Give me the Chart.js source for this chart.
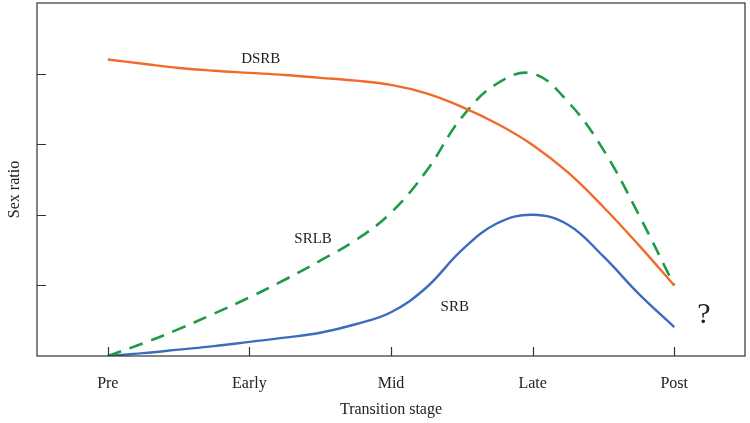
<!DOCTYPE html>
<html>
<head>
<meta charset="utf-8">
<script src="https://cdn.jsdelivr.net/npm/chart.js@4"></script>
<style>
  html, body { margin: 0; padding: 0; background: #fff; }
  #wrap { width: 750px; height: 423px; }
</style>
</head>
<body>
<div id="wrap"><canvas id="c"></canvas></div>
<script>
// Transition stages (x = stage index, quarter steps read between stages)
const stages = ['Pre', 'Early', 'Mid', 'Late', 'Post'];
const xs = [0, 0.25, 0.5, 0.75, 1, 1.25, 1.5, 1.75, 2, 2.25, 2.5, 2.75, 3, 3.25, 3.5, 3.75, 4];

// values (arbitrary units, ticks at 1..4)
const dsrb = [4.2, 4.14, 4.08, 4.04, 4.01, 3.98, 3.94, 3.9, 3.84, 3.72, 3.53, 3.29, 2.99, 2.6, 2.11, 1.57, 1.0];
const srlb = [0, 0.18, 0.38, 0.6, 0.83, 1.08, 1.35, 1.64, 2.03, 2.62, 3.38, 3.86, 4.0, 3.6, 2.92, 2.0, 1.0];
const srb  = [0, 0.04, 0.09, 0.14, 0.2, 0.26, 0.33, 0.45, 0.62, 0.97, 1.5, 1.88, 2.0, 1.86, 1.41, 0.88, 0.41];

const yTicks = [1, 2, 3, 4];

// in-plot labels
const labels = [
  { text: 'DSRB', x: 1.08, y: 4.2 },
  { text: 'SRLB', x: 1.45, y: 1.65 },
  { text: 'SRB',  x: 2.45, y: 0.7 },
  { text: '?',    x: 4.21, y: 0.58, size: 30 }
];

const FONT = '"Liberation Serif", "DejaVu Serif", serif';

function pts(ys) {
  return xs.map((x, i) => ({ x: x, y: ys[i] }));
}

const frame = {
  id: 'frame',
  afterDraw(chart) {
    const { ctx, chartArea: a, scales } = chart;
    ctx.save();
    ctx.strokeStyle = '#333';
    ctx.lineWidth = 1.2;
    ctx.strokeRect(a.left, a.top, a.right - a.left, a.bottom - a.top);
    // inward ticks
    ctx.beginPath();
    yTicks.forEach(v => {
      const y = Math.round(scales.y.getPixelForValue(v)) + 0.5;
      ctx.moveTo(a.left, y);
      ctx.lineTo(a.left + 9, y);
    });
    stages.forEach((s, i) => {
      const x = Math.round(scales.x.getPixelForValue(i)) + 0.5;
      ctx.moveTo(x, a.bottom);
      ctx.lineTo(x, a.bottom - 9);
    });
    ctx.stroke();
    // text labels
    ctx.fillStyle = '#222';
    ctx.textAlign = 'center';
    ctx.textBaseline = 'middle';
    labels.forEach(l => {
      ctx.font = (l.size || 15) + 'px ' + FONT;
      ctx.fillText(l.text, scales.x.getPixelForValue(l.x), scales.y.getPixelForValue(l.y));
    });
    // y axis title (sits a bit below the plot centre in the original)
    ctx.translate(15, (a.top + a.bottom) / 2 + 10);
    ctx.rotate(-Math.PI / 2);
    ctx.font = '16px ' + FONT;
    ctx.fillText('Sex ratio', 0, 0);
    ctx.restore();
  }
};

new Chart(document.getElementById('c'), {
  type: 'line',
  data: {
    datasets: [
      { label: 'DSRB', data: pts(dsrb), borderColor: '#f26a2a', borderWidth: 2.4 },
      { label: 'SRLB', data: pts(srlb), borderColor: '#1f9a48', borderWidth: 2.6, borderDash: [14, 9] },
      { label: 'SRB',  data: pts(srb),  borderColor: '#3a6cc0', borderWidth: 2.4 }
    ]
  },
  options: {
    responsive: true,
    maintainAspectRatio: false,
    animation: false,
    devicePixelRatio: 1,
    layout: { padding: { top: 3, right: 5, left: 0, bottom: 0 } },
    elements: {
      point: { radius: 0 },
      line: { tension: 0.4, fill: false }
    },
    plugins: { legend: { display: false }, tooltip: { enabled: false } },
    scales: {
      x: {
        type: 'linear', min: -0.5, max: 4.5,
        grid: { display: false, drawTicks: false },
        border: { display: false },
        afterBuildTicks: s => { s.ticks = stages.map((_, i) => ({ value: i })); },
        afterFit: s => { s.height = 67; },
        ticks: {
          padding: 18, color: '#222', font: { family: FONT, size: 16 },
          callback: v => stages[v]
        },
        title: { display: true, text: 'Transition stage', color: '#222', font: { family: FONT, size: 16 }, padding: { top: 6 } }
      },
      y: {
        min: 0, max: 5,
        grid: { display: false, drawTicks: false },
        border: { display: false },
        afterFit: s => { s.width = 37; },
        ticks: { display: false }
      }
    }
  },
  plugins: [frame]
});
</script>
</body>
</html>
